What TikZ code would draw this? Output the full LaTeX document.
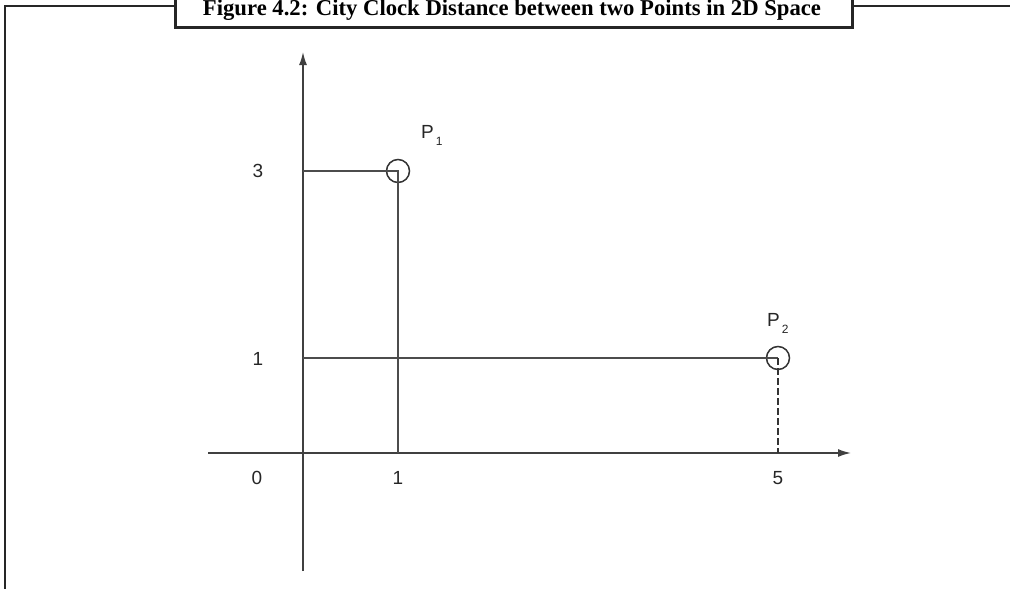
\documentclass[tikz,border=0pt]{standalone}
\usepackage{fontspec}
\setmainfont{Liberation Serif}
\newfontfamily\lblfont{Liberation Sans}
\usetikzlibrary{arrows.meta}
\begin{document}
\begin{tikzpicture}[x=1pt,y=-1pt,
  frameline/.style={line width=2.8pt,color=black!85},
  axisline/.style={line width=1.6pt,color=black!75},
  guideline/.style={line width=1.4pt,color=black!70},
  dashguide/.style={line width=2pt,color=black!80,dash pattern=on 7pt off 3pt},
  ptcircle/.style={circle,draw=black!80,line width=1.5pt,minimum size=23pt,inner sep=0pt},
  lbl/.style={font=\lblfont\fontsize{19}{19}\selectfont,text=black!85,inner sep=0pt},
  titlebox/.style={draw=black!85,line width=2.8pt,fill=white,inner sep=0pt}
]
\useasboundingbox (0,0) rectangle (1010,589);
\clip (0,0) rectangle (1010,589);
% frame
\coordinate (fbl) at (5,600);
\coordinate (ftl) at (5,6);
\coordinate (ftr) at (1020,6);
\draw[frameline] (fbl) -- (ftl) -- (ftr);
\node[titlebox,minimum width=677pt,minimum height=45pt,anchor=south west] (title) at (174,29) {};
\node[inner sep=0pt,anchor=base] (titletext) at (512,16) {\resizebox{618pt}{!}{\bfseries Figure 4.2: City Clock Distance between two Points in 2D Space}};
% axes
\coordinate (ybot) at (303,571);
\coordinate (ytop) at (303,52);
\coordinate (xleft) at (208,453);
\coordinate (xright) at (851,453);
\draw[axisline,-{Latex[length=13pt,width=8pt]}] (ybot) -- (ytop);
\draw[axisline,-{Latex[length=13pt,width=8pt]}] (xleft) -- (xright);
% points
\node[ptcircle] (p1) at (398,171) {};
\node[ptcircle] (p2) at (778,358) {};
\coordinate (y3) at (303,171);
\coordinate (y1) at (303,358);
\coordinate (x1) at (398,453);
\coordinate (x5) at (778,453);
\draw[guideline] (y3) -- (p1.center) -- (x1);
\draw[guideline] (y1) -- (p2.center);
\draw[dashguide] (p2.center) -- (x5);
% labels
\node[lbl] (l3) at (258,171) {3};
\node[lbl] (l1y) at (258,359) {1};
\node[lbl] (l0) at (257,478) {0};
\node[lbl] (l1x) at (398,478) {1};
\node[lbl] (l5) at (778,478) {5};
\node[lbl,anchor=base west] (lp1) at (421,138) {P\raisebox{-7pt}{\fontsize{12}{12}\selectfont\,1}};
\node[lbl,anchor=base west] (lp2) at (767,326) {P\raisebox{-7pt}{\fontsize{12}{12}\selectfont\,2}};
\end{tikzpicture}
\end{document}
